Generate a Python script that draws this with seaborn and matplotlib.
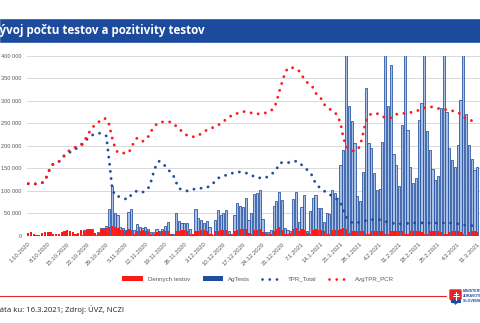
import matplotlib
matplotlib.use("Agg")
import matplotlib.pyplot as plt
from matplotlib.patches import Rectangle, Patch, Polygon
from matplotlib.lines import Line2D
import numpy as np
import pandas as pd
import seaborn as sns

# ---------------- data ----------------
start_date = "2020-10-01"
tick_labels = ["1.10.2020", "8.10.2020", "15.10.2020", "22.10.2020", "29.10.2020",
               "5.11.2020", "12.11.2020", "19.11.2020", "26.11.2020", "3.12.2020",
               "10.12.2020", "17.12.2020", "24.12.2020", "31.12.2020", "7.1.2021",
               "14.1.2021", "21.1.2021", "28.1.2021", "4.2.2021", "11.2.2021",
               "18.2.2021", "25.2.2021", "4.3.2021", "11.3.2021"]

dennych_testov = [
    7500, 8200, 5300, 2300, 2300, 7500, 8200,
    8900, 8900, 5300, 3800, 4500, 9700, 12000,
    12700, 11200, 8200, 4500, 7500, 13400, 11200,
    14100, 14900, 14900, 6700, 7500, 15600, 15600,
    18600, 20100, 21500, 19000, 17100, 14100, 14100,
    11200, 14900, 14100, 5300, 11200, 11200, 13000,
    12000, 10500, 4000, 3500, 9000, 10000, 11000,
    12000, 11500, 4500, 3000, 10000, 12000, 13000,
    12500, 11000, 4000, 3500, 10500, 11500, 12500,
    13000, 12000, 5000, 3500, 11000, 12000, 13500,
    14000, 13000, 5500, 4000, 12000, 13000, 14500,
    15000, 14500, 6000, 4500, 13000, 14000, 15500,
    9000, 6000, 4000, 5000, 12000, 16000, 20000,
    14000, 5000, 4500, 6000, 16000, 18000, 12000,
    15000, 13000, 6000, 5000, 13000, 14500, 13500,
    13000, 12000, 5500, 4500, 12500, 14000, 13000,
    14500, 18000, 15000, 6000, 12000, 12000, 11500,
    11000, 10500, 5000, 4000, 11000, 12000, 11500,
    11000, 10000, 4500, 3500, 10500, 12000, 11000,
    10500, 10000, 4500, 3500, 10000, 11500, 11000,
    10500, 9500, 4500, 3500, 10000, 11000, 10500,
    10000, 9500, 4000, 3500, 9500, 11000, 10500,
    10000, 9500, 4000, 3000, 9500, 10500, 10000,
    9500]

ag_tests = [0] * 19 + [
    2000, 14000, 15500, 16000, 16000, 3000, 9000, 17000, 18000,
    22000, 60000, 110000, 52000, 47000, 19000, 17000, 13000, 53000, 60000,
    14000, 26000, 21000, 18000, 21000, 15000, 9000, 8000, 15000, 10000,
    16000, 23000, 30000, 5000, 4000, 52000, 33000, 28000, 28000, 28000,
    16000, 4000, 59000, 41000, 35000, 28000, 34000, 21000, 3000, 35500,
    58000, 47000, 51000, 57000, 10000, 2000, 47000, 73000, 66000, 65000,
    84000, 35500, 51000, 93000, 95000, 103000, 38000, 8000, 8000, 13000,
    67000, 78000, 97000, 79000, 17000, 13000, 10000, 82000, 98000, 32000,
    64000, 90000, 12000, 56000, 84000, 92000, 63000, 63000, 32000, 50000,
    49000, 102000, 96000, 84000, 158000, 191000, 420000, 289000, 255000, 206000,
    89000, 78000, 143000, 328000, 206000, 195000, 139000, 101000, 104000, 209000,
    420000, 289000, 380000, 181000, 158000, 112000, 247000, 420000, 235000, 154000,
    117000, 129000, 258000, 295000, 420000, 232000, 190000, 148000, 124000, 134000,
    285000, 420000, 275000, 196000, 169000, 152000, 202000, 302000, 420000, 271000,
    202000, 171000, 147000, 152000]

tpr_total = [
    11.6, 11.5, 11.5, 11.6, 11.7, 11.8, 12.2, 13.8, 15.2, 16.0,
    16.3, 16.5, 17.2, 17.8, 18.3, 18.6, 19.0, 19.3, 19.7, 20.1,
    20.7, 21.4, 22.0, 22.4, 22.6, 22.8, 22.8, 22.5, 22.2, 17.0,
    11.2, 9.0, 8.8, 8.7, 8.5, 8.2, 8.2, 9.2, 9.7, 10.0,
    9.9, 9.7, 10.0, 10.5, 12.0, 14.2, 15.9, 16.6, 16.2, 15.6,
    15.0, 14.1, 13.5, 12.0, 10.6, 10.3, 10.1, 10.0, 10.1, 10.3,
    10.5, 10.6, 10.6, 10.7, 10.8, 11.0, 11.4, 12.2, 12.8, 13.1,
    13.3, 13.5, 13.8, 13.9, 14.1, 14.2, 14.2, 14.1, 14.0, 13.8,
    13.5, 13.2, 12.9, 12.9, 12.9, 12.9, 13.2, 13.6, 14.1, 14.7,
    16.1, 16.3, 16.3, 16.3, 16.3, 16.4, 16.6, 16.4, 15.8, 15.2,
    14.7, 14.2, 13.2, 11.7, 11.0, 10.6, 10.1, 9.5, 9.2, 8.9,
    8.5, 8.0, 7.5, 5.8, 4.3, 3.4, 3.0, 2.8, 2.9, 3.1,
    3.3, 3.4, 3.5, 3.6, 3.7, 3.8, 3.6, 3.5, 3.3, 3.0,
    2.9, 2.8, 2.7, 2.7, 2.7, 2.7, 2.8, 2.9, 2.9, 2.9,
    2.9, 2.9, 2.9, 2.9, 2.9, 2.9, 2.9, 2.9, 2.9, 2.9,
    2.9, 2.9, 2.9, 2.9, 2.7, 2.6, 2.5, 2.4, 2.4, 2.3,
    2.2, 2.1]

avg_tpr_pcr = [
    11.6, 11.5, 11.5, 11.6, 11.7, 11.8, 12.2, 13.8, 15.2, 16.0,
    16.3, 16.5, 17.2, 17.9, 18.6, 19.1, 19.4, 19.7, 20.0, 20.3,
    21.0, 22.0, 23.1, 24.0, 24.7, 25.2, 25.6, 26.1, 26.0, 24.8,
    22.0, 19.9, 18.6, 18.4, 18.4, 18.4, 18.5, 19.5, 21.0, 21.7,
    21.2, 21.0, 21.3, 22.0, 23.2, 24.0, 24.8, 25.2, 25.3, 25.3,
    25.3, 25.3, 25.0, 24.4, 23.8, 23.3, 22.8, 22.3, 22.1, 22.0,
    22.1, 22.3, 22.7, 23.1, 23.5, 23.7, 24.0, 24.3, 24.6, 24.9,
    25.4, 25.9, 26.3, 26.8, 27.0, 27.2, 27.4, 27.6, 27.6, 27.5,
    27.3, 27.2, 27.1, 27.1, 27.2, 27.3, 27.5, 27.8, 28.3, 29.6,
    32.0, 34.0, 36.0, 37.2, 37.4, 37.3, 37.1, 36.7, 35.8, 34.8,
    34.1, 33.5, 33.0, 31.8, 31.0, 30.5, 29.3, 28.7, 28.2, 27.8,
    27.4, 26.6, 25.0, 21.8, 20.0, 19.3, 19.0, 18.8, 19.1, 20.0,
    22.5, 25.2, 26.6, 27.1, 27.2, 27.2, 26.9, 26.5, 26.3, 26.1,
    26.2, 26.6, 27.0, 27.1, 27.2, 27.2, 27.3, 27.4, 27.5, 27.7,
    27.9, 28.2, 28.4, 28.6, 28.7, 28.6, 28.4, 28.3, 28.2, 28.1,
    28.0, 27.9, 27.8, 27.6, 27.5, 27.0, 26.4, 26.1, 25.9, 25.6,
    25.3, 25.0]

n = len(dennych_testov)
assert len(ag_tests) == n and len(tpr_total) == n and len(avg_tpr_pcr) == n
dates = pd.date_range(start_date, periods=n, freq="D")
day = np.arange(n)

# ---------------- style ----------------
sns.set_style("white")
plt.rcParams["font.family"] = ["Liberation Sans", "DejaVu Sans"]

RED = "#ff1a1a"
BLUE = "#1f4e9e"
LIGHT_BLUE = "#a9c0e6"
GRAY_TXT = "#595959"

W, H = 480, 323
fig = plt.figure(figsize=(W / 100, H / 100), dpi=100)

def fx(px):
    return px / W

def fy(py):
    return 1 - py / H

ax_left, ax_top, ax_bottom = 26.5, 55.7, 236.0
ax = fig.add_axes([fx(ax_left), fy(ax_bottom), 1 - fx(ax_left), (ax_bottom - ax_top) / H])

df = pd.DataFrame({"day": day, "date": dates, "ag": ag_tests, "pcr": dennych_testov,
                   "tpr": tpr_total, "avg": avg_tpr_pcr})

sns.barplot(data=df, x="day", y="ag", native_scale=True, ax=ax, color=LIGHT_BLUE,
            saturation=1, width=0.78, edgecolor=BLUE, linewidth=0.55, errorbar=None)
sns.barplot(data=df, x="day", y="pcr", native_scale=True, ax=ax, color=RED,
            saturation=1, width=0.78, linewidth=0, errorbar=None)

ax.set_xlim(-0.6, 162.0)
ax.set_ylim(0, 400000)
yt = list(range(0, 400001, 50000))
ax.set_yticks(yt)
ax.set_yticklabels([f"{v:,}".replace(",", " ") for v in yt], fontsize=4.1, color=GRAY_TXT)
tick_pos = [d for d in day if (d % 7 == 0)][:len(tick_labels)]
ax.set_xticks(tick_pos)
ax.set_xticklabels(tick_labels, rotation=45, ha="right", rotation_mode="anchor",
                   fontsize=4.3, color=GRAY_TXT)
ax.tick_params(axis="both", length=0)
ax.tick_params(axis="y", pad=3.5)
ax.tick_params(axis="x", pad=4)
ax.set_xlabel("")
ax.set_ylabel("")
for s in ax.spines.values():
    s.set_visible(False)
ax.yaxis.grid(True, color="#d9d9d9", linewidth=0.7)
ax.set_axisbelow(True)

ax2 = ax.twinx()
dot = (0, (0.01, 2.45))
sns.lineplot(data=df, x="day", y="tpr", ax=ax2, color=BLUE, linewidth=2.1,
             linestyle=dot, dash_capstyle="round")
sns.lineplot(data=df, x="day", y="avg", ax=ax2, color=RED, linewidth=2.1,
             linestyle=dot, dash_capstyle="round")
ax2.set_ylim(0, 40)
ax2.set_xlim(-0.6, 162.0)
ax2.set_yticks([])
ax2.set_ylabel("")
ax2.set_xlabel("")
for s in ax2.spines.values():
    s.set_visible(False)

# ---------------- title banner ----------------
fig.patches.append(Rectangle((0, fy(42)), 1, 23 / H, transform=fig.transFigure,
                             facecolor="#1c4b9d", edgecolor="#3a66b0", linewidth=0.6, zorder=0))
fig.text(fx(-7.5), fy(30.5), "Vývoj počtu testov a pozitivity testov", color="white",
         fontsize=8.4, fontweight="bold", va="center", ha="left", family=["Open Sans", "DejaVu Sans"])

# ---------------- legend ----------------
handles = [Patch(facecolor=RED, edgecolor="none"),
           Patch(facecolor=BLUE, edgecolor="none"),
           Line2D([], [], color=BLUE, linewidth=2.0, linestyle=(0, (0.01, 2.6)), dash_capstyle="round"),
           Line2D([], [], color=RED, linewidth=2.0, linestyle=(0, (0.01, 2.6)), dash_capstyle="round")]
labels = ["Dennych testov", "AgTests", "TPR_Total", "AvgTPR_PCR"]
fig.legend(handles, labels, loc="center", bbox_to_anchor=(fx(258), fy(279)), ncol=4,
           frameon=False, fontsize=4.4, handlelength=3.4, handleheight=0.7,
           columnspacing=2.0, handletextpad=0.8, labelcolor=GRAY_TXT)

# ---------------- footer ----------------
fig.add_artist(Line2D([0, fx(446)], [fy(296), fy(296)], color="#e3262b", linewidth=0.8,
                      transform=fig.transFigure))
fig.text(fx(-6.5), fy(310), "Dáta ku: 16.3.2021; Zdroj: ÚVZ, NCZI", color="#222222",
         fontsize=5.6, va="center", ha="left", family=["Open Sans", "DejaVu Sans"])

# logo
shield = Polygon([[fx(450), fy(290)], [fx(461), fy(290)], [fx(461), fy(299)],
                  [fx(455.5), fy(304)], [fx(450), fy(299)]], closed=True,
                 transform=fig.transFigure, facecolor="#e3262b", edgecolor="#e3262b")
fig.patches.append(shield)
fig.patches.append(Rectangle((fx(450.5), fy(303)), 10 / W, 3 / H, transform=fig.transFigure,
                             facecolor="#1c4b9d", edgecolor="none"))
fig.add_artist(Line2D([fx(455.5), fx(455.5)], [fy(291.5), fy(300)], color="white",
                      linewidth=0.8, transform=fig.transFigure))
fig.add_artist(Line2D([fx(453.5), fx(457.5)], [fy(293.5), fy(293.5)], color="white",
                      linewidth=0.7, transform=fig.transFigure))
fig.add_artist(Line2D([fx(452.5), fx(458.5)], [fy(296), fy(296)], color="white",
                      linewidth=0.7, transform=fig.transFigure))
for i, t in enumerate(["MINISTERSTVO", "ZDRAVOTNÍCTVA", "SLOVENSKEJ REPUBLIKY"]):
    fig.text(fx(463), fy(291.5 + i * 4.5), t, color="#1c4b9d", fontsize=2.6,
             fontweight="bold", va="center", ha="left")

fig.savefig("out.png", dpi=100)
